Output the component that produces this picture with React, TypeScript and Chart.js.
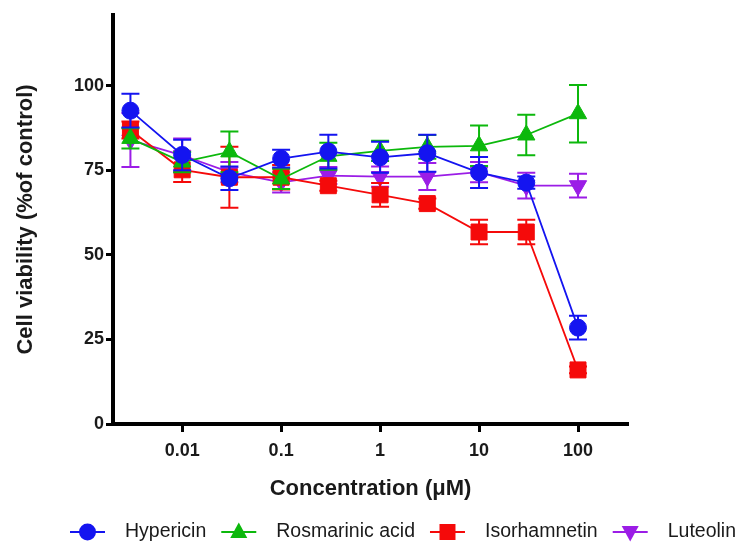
import { useEffect, useRef } from "react";
import { Chart, registerables } from "chart.js";

Chart.register(...registerables);

// ---- data ----
const concentrations = [0.003, 0.01, 0.03, 0.1, 0.3, 1, 3, 10, 30, 100];
const xTickValues = [0.01, 0.1, 1, 10, 100];
const yTickValues = [0, 25, 50, 75, 100];
const seriesNames = ["Hypericin", "Rosmarinic acid", "Isorhamnetin", "Luteolin"];

const hypericin = [92.7, 79.6, 72.7, 78.5, 80.6, 78.9, 80.1, 74.4, 71.4, 28.5];
const hypericinErr = [5, 4.5, 3.5, 2.6, 5, 4.6, 5.5, 4.6, 1.8, 3.5];

const rosmarinic = [84.5, 77.5, 80.5, 72.5, 79.2, 80.8, 82, 82.3, 85.5, 91.8];
const rosmarinicErr = [3, 3, 6, 3, 4, 3, 3.5, 6, 6, 8.5];

const isorhamnetin = [87, 75.2, 73, 73, 70.5, 67.8, 65.2, 56.8, 56.8, 16];
const isorhamnetinErr = [2.5, 3.6, 9, 3.6, 1.5, 3.5, 1.5, 3.6, 3.6, 1];

const luteolin = [84, 79.5, 74.5, 71.5, 73.5, 73.2, 73.2, 74.5, 70.5, 70.5];
const luteolinErr = [8, 5, 3, 3, 2.5, 3, 4, 3, 3.8, 3.5];

// ---- styles ----
const colors = ["#1414f0", "#0cb80c", "#f50a0a", "#9b1de6"];
const markers = ["circle", "triangle", "rect", "triangleDown"];

function toPoints(vals: number[]) {
  return vals.map((v, i) => ({ x: concentrations[i], y: v }));
}

function drawMarker(ctx: CanvasRenderingContext2D, kind: string, x: number, y: number, color: string) {
  ctx.save();
  ctx.fillStyle = color;
  ctx.beginPath();
  if (kind === "circle") {
    ctx.arc(x, y, 8.5, 0, Math.PI * 2);
  } else if (kind === "rect") {
    ctx.rect(x - 8, y - 8, 16, 16);
  } else if (kind === "triangle") {
    ctx.moveTo(x, y - 9.5);
    ctx.lineTo(x + 8.5, y + 6);
    ctx.lineTo(x - 8.5, y + 6);
    ctx.closePath();
  } else {
    ctx.moveTo(x, y + 9.5);
    ctx.lineTo(x + 8.5, y - 6);
    ctx.lineTo(x - 8.5, y - 6);
    ctx.closePath();
  }
  ctx.fill();
  ctx.restore();
}

const errorBarPlugin = {
  id: "errorBars",
  beforeDatasetDraw(chart: any, args: any) {
    const ds = chart.data.datasets[args.index];
    const errs: number[] = ds.errors;
    if (!errs) return;
    const ctx = chart.ctx;
    const yScale = chart.scales.y;
    ctx.save();
    ctx.strokeStyle = ds.borderColor;
    ctx.lineWidth = 2;
    args.meta.data.forEach((pt: any, i: number) => {
      const v = ds.data[i].y;
      const e = errs[i];
      const yt = yScale.getPixelForValue(v + e);
      const yb = yScale.getPixelForValue(v - e);
      ctx.beginPath();
      ctx.moveTo(pt.x, yt);
      ctx.lineTo(pt.x, yb);
      ctx.moveTo(pt.x - 9, yt);
      ctx.lineTo(pt.x + 9, yt);
      ctx.moveTo(pt.x - 9, yb);
      ctx.lineTo(pt.x + 9, yb);
      ctx.stroke();
    });
    ctx.restore();
  },
};

const legendPlugin = {
  id: "bottomLegend",
  afterDraw(chart: any) {
    const ctx = chart.ctx;
    ctx.save();
    ctx.font = '19.5px "Liberation Sans", Arial, sans-serif';
    ctx.textBaseline = "middle";
    ctx.textAlign = "left";
    let x = 70;
    const y = 532;
    chart.data.datasets.forEach((ds: any, i: number) => {
      ctx.strokeStyle = ds.borderColor;
      ctx.lineWidth = 2;
      ctx.beginPath();
      ctx.moveTo(x, y);
      ctx.lineTo(x + 35, y);
      ctx.stroke();
      drawMarker(ctx, markers[i], x + 17.5, y, ds.borderColor);
      ctx.fillStyle = "#1a1a1a";
      const tx = x + 55;
      ctx.fillText(ds.label, tx, y);
      x = tx + ctx.measureText(ds.label).width + 15;
    });
    ctx.restore();
  },
};

export default function App() {
  const canvasRef = useRef<HTMLCanvasElement | null>(null);

  useEffect(() => {
    const canvas = canvasRef.current;
    if (!canvas) return;
    const seriesValues = [hypericin, rosmarinic, isorhamnetin, luteolin];
    const seriesErrors = [hypericinErr, rosmarinicErr, isorhamnetinErr, luteolinErr];
    const pointStyles: any[] = ["circle", "triangle", "rect", "triangle"];
    const pointRadii = [8.5, 10, 11.3, 10];
    const rotations = [0, 0, 0, 180];

    const tickFont = { family: '"Liberation Sans", Arial, sans-serif', size: 18, weight: "bold" as const };
    const titleFont = { family: '"Liberation Sans", Arial, sans-serif', size: 22, weight: "bold" as const };

    const chart = new Chart(canvas, {
      type: "line",
      data: {
        datasets: seriesNames.map((name, i) => ({
          label: name,
          data: toPoints(seriesValues[i]),
          errors: seriesErrors[i],
          borderColor: colors[i],
          backgroundColor: colors[i],
          borderWidth: 1.8,
          pointStyle: pointStyles[i],
          pointRadius: pointRadii[i],
          pointRotation: rotations[i],
          pointBorderWidth: 1,
          pointBackgroundColor: colors[i],
          pointBorderColor: colors[i],
          tension: 0,
          fill: false,
        })) as any,
      },
      options: {
        responsive: false,
        animation: false,
        events: [],
        layout: { padding: { left: 0, top: 15, right: 111, bottom: 37 } },
        plugins: {
          legend: { display: false },
          tooltip: { enabled: false },
        },
        scales: {
          x: {
            type: "logarithmic",
            position: "bottom",
            min: 0.002,
            max: 320,
            afterBuildTicks: (s: any) => {
              s.ticks = xTickValues.map((v) => ({ value: v }));
            },
            afterFit: (s: any) => {
              s.height = 82;
            },
            ticks: {
              font: tickFont,
              color: "#1a1a1a",
              padding: 8,
              maxRotation: 0,
              autoSkip: false,
              callback: (v: any) => String(v),
            },
            grid: {
              display: true,
              drawOnChartArea: false,
              drawTicks: true,
              tickLength: 8,
              tickWidth: 3,
              tickColor: "#000",
            },
            border: { display: true, color: "#000", width: 4 },
            title: {
              display: true,
              text: "Concentration (μM)",
              font: titleFont,
              color: "#1a1a1a",
              padding: { top: 4, bottom: 4 },
            },
          },
          y: {
            type: "linear",
            min: 0,
            max: 121,
            afterBuildTicks: (s: any) => {
              s.ticks = yTickValues.map((v) => ({ value: v }));
            },
            afterFit: (s: any) => {
              s.width = 113;
            },
            ticks: {
              font: tickFont,
              color: "#1a1a1a",
              padding: 2,
              callback: (v: any) => String(v),
            },
            grid: {
              display: true,
              drawOnChartArea: false,
              drawTicks: true,
              tickLength: 7,
              tickWidth: 3,
              tickColor: "#000",
            },
            border: { display: true, color: "#000", width: 4 },
            title: {
              display: true,
              text: "Cell viability (%of control)",
              font: titleFont,
              color: "#1a1a1a",
              padding: { top: 13, bottom: 0 },
            },
          },
        },
      },
      plugins: [errorBarPlugin, legendPlugin],
    });
    return () => chart.destroy();
  }, []);

  return (
    <div style={{ position: "fixed", left: 0, top: 0, width: 739, height: 543, background: "#fff" }}>
      <canvas ref={canvasRef} width={739} height={543} style={{ width: 739, height: 543 }} />
    </div>
  );
}
